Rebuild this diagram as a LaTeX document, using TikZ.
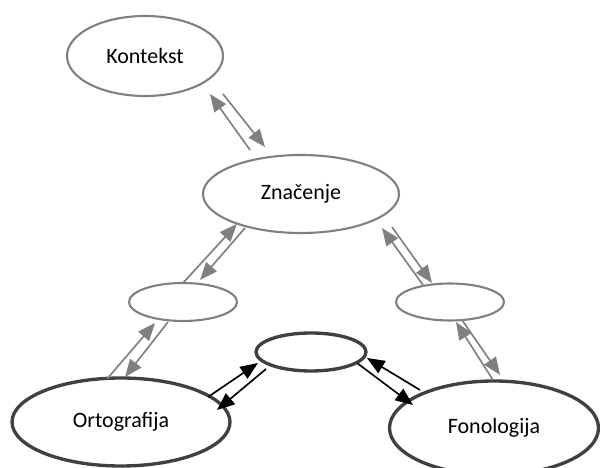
\documentclass[tikz,border=0pt]{standalone}
\usepackage{fontspec}
\setmainfont{Carlito}
\usetikzlibrary{arrows.meta,calc,shapes.geometric}
\definecolor{linegray}{RGB}{128,128,128}
\definecolor{edgedark}{RGB}{64,64,64}

\begin{document}
\begin{tikzpicture}[
    ell/.style={ellipse, draw=linegray, line width=1.2pt, inner sep=0pt, font=\fontsize{12.5}{15}\selectfont},
    boldell/.style={ell, draw=edgedark, line width=1.9pt},
    garr/.style={-{Triangle[length=10pt,width=8pt]}, draw=linegray, line width=0.95pt},
    barr/.style={garr, draw=black}
]
    \useasboundingbox (0,0) rectangle (12,-9.36);

    % Ellipses
    \node[ell, minimum width=3.12cm, minimum height=1.6cm] (kontekst) at (2.9,-1.12) {Kontekst};
    \node[ell, minimum width=3.92cm, minimum height=1.56cm] (znacenje) at (6.02,-3.88) {Značenje};
    \node[ell, minimum width=2.16cm, minimum height=0.76cm] (lijevo) at (3.66,-6.04) {};
    \node[ell, minimum width=2.16cm, minimum height=0.74cm] (desno) at (9.0,-6.04) {};
    \node[boldell, minimum width=2.2cm, minimum height=0.76cm] (sredina) at (6.22,-7.04) {};
    \node[boldell, minimum width=4.36cm, minimum height=1.76cm] (orto) at (2.42,-8.44) {Ortografija};
    \node[boldell, minimum width=4.18cm, minimum height=1.88cm] (fono) at (9.88,-8.56) {Fonologija};

    % Grey connections
    \draw[garr] ($(znacenje)+(-1.02,0.88)$) -- ($(kontekst)+(1.30,-0.76)$);
    \draw[garr] ($(kontekst)+(1.56,-0.76)$) -- ($(znacenje)+(-0.72,0.94)$);
    \draw[garr] ($(lijevo)+(0,0.38)$) -- ($(znacenje)+(-1.28,-0.60)$);
    \draw[garr] ($(znacenje)+(-1.12,-0.68)$) -- ($(lijevo)+(0.34,0.44)$);
    \draw[garr] ($(orto)+(-0.28,0.86)$) -- ($(lijevo)+(-0.56,-0.42)$);
    \draw[garr] ($(lijevo)+(-0.30,-0.40)$) -- ($(orto)+(0.08,0.90)$);
    \draw[garr] ($(desno)+(-0.54,0.34)$) -- ($(znacenje)+(1.62,-0.68)$);
    \draw[garr] ($(znacenje)+(1.82,-0.66)$) -- ($(desno)+(-0.36,0.38)$);
    \draw[garr] ($(fono)+(-0.02,0.96)$) -- ($(desno)+(0.12,-0.40)$);
    \draw[garr] ($(desno)+(0.24,-0.36)$) -- ($(fono)+(0.12,1.06)$);

    % Black connections
    \draw[barr] ($(orto)+(1.74,0.50)$) -- ($(sredina)+(-1.06,-0.22)$);
    \draw[barr] ($(sredina)+(-0.90,-0.34)$) -- ($(orto)+(1.92,0.24)$);
    \draw[barr] ($(sredina)+(0.92,-0.22)$) -- ($(fono)+(-1.62,0.46)$);
    \draw[barr] ($(fono)+(-1.48,0.76)$) -- ($(sredina)+(1.12,-0.12)$);
\end{tikzpicture}
\end{document}
